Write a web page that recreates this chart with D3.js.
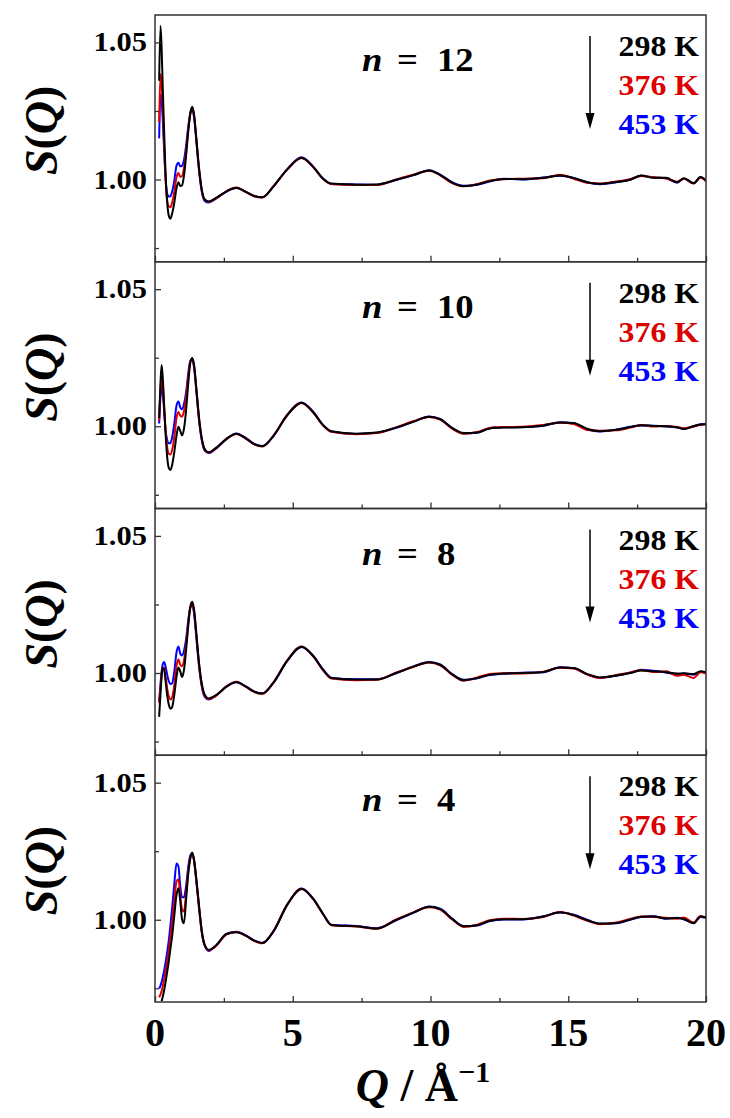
<!DOCTYPE html>
<html>
<head>
<meta charset="utf-8">
<script src="https://cdn.jsdelivr.net/npm/d3@7"></script>
<style>
  body { margin: 0; background: #fff; }
  svg text { font-weight: bold; }
</style>
</head>
<body>
<script>
// Q grid in 1/A, shared by all curves
var qLow  = [0.15, 0.2, 0.24, 0.28, 0.33, 0.38, 0.44, 0.5, 0.56, 0.62, 0.7, 0.78, 0.85, 0.92, 0.98, 1.05, 1.13, 1.21, 1.28, 1.35, 1.42, 1.5, 1.6, 1.7, 1.8, 1.95];
var qMid  = [2.2, 2.6, 2.95, 3.3, 3.6, 3.9, 4.3, 4.8, 5.32, 5.75, 6.1, 6.4];
var qHigh = [7.3, 8.05, 8.75, 9.4, 9.95, 10.35, 10.8, 11.2, 11.7, 12.15, 12.65, 13.35, 14.1, 14.7, 15.2, 15.7, 16.15, 16.75, 17.25, 17.65, 18.1, 18.55, 18.95, 19.2, 19.55, 19.8, 20.0];

var temps  = ["298 K", "376 K", "453 K"];
var colors = ["#000000", "#dd0000", "#0000ff"];
var chainN = [12, 10, 8, 4];

// S(Q), n = 12
var n12_298 = [1.036, 1.056, 1.048, 1.034, 1.018, 1.003, 0.992, 0.9868, 0.9857, 0.9875, 0.9915, 0.9968, 0.9990, 0.9976, 0.9978, 1.0012, 1.0088, 1.0178, 1.0240, 1.0265, 1.0235, 1.0150, 1.0040, 0.9962, 0.9928, 0.9920,
  0.9932, 0.9957, 0.9970, 0.9955, 0.9940, 0.9935, 0.9975, 1.0037, 1.0078, 1.0045, 1.0003, 0.9985,
  0.9981, 0.9982, 0.9999, 1.0017, 1.0033, 1.0017, 0.9988, 0.9976, 0.9982, 0.9994, 1.0002, 1.0001, 1.0006, 1.0015, 1.0005, 0.9990, 0.9984, 0.9991, 0.9999, 1.0015, 1.0006, 1.0006, 0.9990, 1.0005, 0.9987, 1.0009, 0.9996];
var n12_376 = [1.021, 1.0385, 1.035, 1.026, 1.013, 1.001, 0.9925, 0.9902, 0.9899, 0.9915, 0.9955, 1.0008, 1.0024, 1.0010, 1.0012, 1.0040, 1.0105, 1.0185, 1.0240, 1.0262, 1.0232, 1.0148, 1.0038, 0.9960, 0.9926, 0.9919,
  0.9930, 0.9958, 0.9971, 0.9954, 0.9939, 0.9934, 0.9976, 1.0036, 1.0079, 1.0044, 1.0002, 0.9984,
  0.9980, 0.9980, 1.0000, 1.0018, 1.0032, 1.0015, 0.9986, 0.9975, 0.9984, 0.9996, 1.0001, 1.0003, 1.0005, 1.0017, 1.0003, 0.9988, 0.9985, 0.9993, 1.0001, 1.0013, 1.0008, 1.0004, 0.9992, 1.0003, 0.9985, 1.0006, 0.9993];
var n12_453 = [1.015, 1.031, 1.029, 1.022, 1.011, 1.001, 0.9950, 0.9938, 0.9939, 0.9955, 0.9995, 1.0050, 1.0061, 1.0048, 1.0050, 1.0070, 1.0125, 1.0195, 1.0240, 1.0255, 1.0225, 1.0140, 1.0030, 0.9955, 0.9922, 0.9916,
  0.9929, 0.9956, 0.9969, 0.9955, 0.9940, 0.9935, 0.9974, 1.0038, 1.0081, 1.0046, 1.0004, 0.9984,
  0.9982, 0.9981, 0.9998, 1.0016, 1.0034, 1.0018, 0.9989, 0.9977, 0.9981, 0.9993, 1.0003, 1.0000, 1.0007, 1.0014, 1.0006, 0.9989, 0.9983, 0.9990, 1.0000, 1.0014, 1.0007, 1.0005, 0.9988, 1.0004, 0.9986, 1.0008, 0.9995];

// S(Q), n = 10
var n10_298 = [1.003, 1.016, 1.0223, 1.018, 1.008, 0.998, 0.989, 0.9848, 0.9840, 0.9858, 0.9905, 0.9965, 0.9998, 0.9982, 0.9967, 0.9990, 1.0060, 1.0160, 1.0230, 1.0249, 1.0222, 1.0140, 1.0030, 0.9955, 0.9918, 0.9905,
  0.9920, 0.9955, 0.9973, 0.9955, 0.9935, 0.9927, 0.9965, 1.0040, 1.0086, 1.0050, 1.0004, 0.9982,
  0.9973, 0.9977, 0.9995, 1.0017, 1.0035, 1.0026, 0.9993, 0.9975, 0.9977, 0.9992, 0.9995, 0.9996, 1.0003, 1.0014, 1.0012, 0.9990, 0.9982, 0.9987, 0.9997, 1.0004, 1.0001, 1.0000, 0.9996, 0.9990, 1.0001, 1.0006, 1.0007];
var n10_376 = [1.002, 1.0135, 1.0183, 1.015, 1.007, 0.999, 0.9925, 0.9900, 0.9897, 0.9912, 0.9960, 1.0030, 1.0052, 1.0038, 1.0035, 1.0055, 1.0105, 1.0185, 1.0235, 1.0247, 1.0218, 1.0135, 1.0025, 0.9952, 0.9915, 0.9903,
  0.9918, 0.9954, 0.9972, 0.9956, 0.9934, 0.9926, 0.9966, 1.0041, 1.0085, 1.0049, 1.0003, 0.9980,
  0.9971, 0.9975, 0.9996, 1.0019, 1.0034, 1.0024, 0.9990, 0.9973, 0.9979, 0.9994, 0.9997, 0.9998, 1.0005, 1.0013, 1.0008, 0.9986, 0.9984, 0.9985, 0.9995, 1.0005, 0.9999, 1.0001, 0.9997, 0.9993, 0.9998, 1.0005, 1.0008];
var n10_453 = [1.001, 1.011, 1.0146, 1.012, 1.006, 0.999, 0.9950, 0.9938, 0.9939, 0.9958, 1.0010, 1.0075, 1.0090, 1.0068, 1.0062, 1.0080, 1.0125, 1.0195, 1.0238, 1.0243, 1.0212, 1.0128, 1.0020, 0.9948, 0.9912, 0.9902,
  0.9917, 0.9953, 0.9974, 0.9957, 0.9936, 0.9928, 0.9964, 1.0042, 1.0087, 1.0052, 1.0005, 0.9981,
  0.9972, 0.9976, 0.9994, 1.0018, 1.0036, 1.0027, 0.9992, 0.9974, 0.9976, 0.9993, 0.9996, 0.9997, 1.0002, 1.0015, 1.0010, 0.9988, 0.9981, 0.9988, 0.9998, 1.0003, 1.0002, 0.9999, 0.9995, 0.9991, 1.0000, 1.0007, 1.0008];

// S(Q), n = 8
var n8_298 = [0.9840, 0.9925, 0.9985, 1.0018, 1.0015, 0.9975, 0.9920, 0.9885, 0.9870, 0.9875, 0.9920, 0.9985, 1.0020, 1.0005, 0.9985, 1.0010, 1.0085, 1.0175, 1.0240, 1.0260, 1.0230, 1.0145, 1.0035, 0.9960, 0.9922, 0.9907,
  0.9918, 0.9950, 0.9967, 0.9950, 0.9932, 0.9925, 0.9965, 1.0045, 1.0096, 1.0061, 1.0012, 0.9982,
  0.9976, 0.9976, 1.0000, 1.0024, 1.0039, 1.0030, 0.9994, 0.9974, 0.9982, 0.9994, 0.9998, 1.0000, 1.0004, 1.0020, 1.0018, 0.9996, 0.9984, 0.9991, 1.0000, 1.0009, 1.0006, 1.0003, 0.9998, 0.9999, 0.9996, 1.0006, 1.0003];
var n8_376 = [0.9890, 0.9950, 0.9995, 1.0020, 1.0018, 0.9990, 0.9945, 0.9915, 0.9903, 0.9910, 0.9955, 1.0025, 1.0050, 1.0030, 1.0025, 1.0045, 1.0105, 1.0185, 1.0238, 1.0254, 1.0225, 1.0140, 1.0030, 0.9955, 0.9918, 0.9905,
  0.9916, 0.9951, 0.9968, 0.9949, 0.9931, 0.9924, 0.9966, 1.0046, 1.0097, 1.0060, 1.0010, 0.9980,
  0.9974, 0.9975, 1.0001, 1.0023, 1.0038, 1.0028, 0.9992, 0.9972, 0.9984, 0.9996, 0.9999, 0.9998, 1.0005, 1.0019, 1.0016, 0.9994, 0.9982, 0.9993, 1.0002, 1.0010, 1.0004, 1.0006, 0.9990, 0.9994, 0.9982, 1.0003, 0.9998];
var n8_453 = [0.9895, 0.9960, 1.0005, 1.0032, 1.0040, 1.0025, 0.9995, 0.9970, 0.9960, 0.9962, 1.0005, 1.0075, 1.0097, 1.0070, 1.0064, 1.0080, 1.0125, 1.0195, 1.0238, 1.0246, 1.0215, 1.0130, 1.0022, 0.9950, 0.9914, 0.9903,
  0.9917, 0.9952, 0.9966, 0.9951, 0.9933, 0.9926, 0.9964, 1.0044, 1.0095, 1.0062, 1.0013, 0.9983,
  0.9977, 0.9977, 0.9999, 1.0025, 1.0040, 1.0031, 0.9995, 0.9975, 0.9981, 0.9993, 0.9997, 1.0001, 1.0003, 1.0021, 1.0017, 0.9994, 0.9983, 0.9990, 1.0001, 1.0012, 1.0008, 1.0002, 0.9995, 0.9998, 0.9994, 1.0005, 1.0002];

// S(Q), n = 4
var n4_298 = [null, null, 0.9703, 0.9718, 0.9742, 0.9770, 0.9808, 0.9848, 0.9895, 0.9938, 1.0015, 1.0090, 1.0115, 1.0065, 1.0003, 0.9987, 1.0075, 1.0170, 1.0222, 1.0245, 1.0218, 1.0150, 1.0050, 0.9958, 0.9910, 0.9890,
  0.9905, 0.9948, 0.9954, 0.9942, 0.9924, 0.9915, 0.9958, 1.0055, 1.0112, 1.0075, 1.0021, 0.9981,
  0.9976, 0.9968, 0.9999, 1.0027, 1.0047, 1.0039, 1.0002, 0.9976, 0.9980, 0.9996, 1.0002, 1.0002, 1.0012, 1.0027, 1.0017, 0.9998, 0.9986, 0.9988, 1.0001, 1.0011, 1.0012, 1.0005, 1.0006, 1.0003, 0.9987, 1.0012, 1.0009];
var n4_376 = [0.9717, 0.9728, 0.9740, 0.9757, 0.9782, 0.9808, 0.9845, 0.9888, 0.9938, 0.9990, 1.0068, 1.0140, 1.0148, 1.0085, 1.0038, 1.0030, 1.0098, 1.0180, 1.0228, 1.0243, 1.0215, 1.0145, 1.0045, 0.9955, 0.9908, 0.9888,
  0.9903, 0.9947, 0.9955, 0.9941, 0.9923, 0.9914, 0.9959, 1.0056, 1.0113, 1.0074, 1.0020, 0.9980,
  0.9975, 0.9967, 1.0001, 1.0028, 1.0046, 1.0037, 1.0000, 0.9974, 0.9982, 0.9998, 1.0004, 1.0003, 1.0010, 1.0028, 1.0015, 0.9996, 0.9984, 0.9990, 1.0003, 1.0012, 1.0010, 1.0007, 1.0004, 1.0008, 0.9990, 1.0014, 1.0006];
var n4_453 = [0.9749, 0.9760, 0.9773, 0.9790, 0.9813, 0.9842, 0.9880, 0.9925, 0.9980, 1.0040, 1.0130, 1.0205, 1.0195, 1.0120, 1.0082, 1.0082, 1.0125, 1.0195, 1.0235, 1.0243, 1.0212, 1.0140, 1.0040, 0.9952, 0.9906, 0.9886,
  0.9904, 0.9949, 0.9956, 0.9943, 0.9925, 0.9916, 0.9957, 1.0054, 1.0114, 1.0076, 1.0022, 0.9982,
  0.9977, 0.9969, 0.9998, 1.0026, 1.0048, 1.0040, 1.0003, 0.9977, 0.9979, 0.9995, 1.0001, 1.0001, 1.0013, 1.0026, 1.0018, 0.9999, 0.9985, 0.9987, 1.0000, 1.0010, 1.0013, 1.0004, 1.0007, 1.0001, 0.9989, 1.0010, 1.0008];

// ticks
var xMajor = [0, 5, 10, 15, 20];
var xMinor = [2.5, 7.5, 12.5, 17.5];
var yMajor = [1.00, 1.05];
var yMinor = [0.975, 1.025];

var Q = qLow.concat(qMid, qHigh);
var panels = [
  { n: chainN[0], s: [n12_298, n12_376, n12_453] },
  { n: chainN[1], s: [n10_298, n10_376, n10_453] },
  { n: chainN[2], s: [n8_298, n8_376, n8_453] },
  { n: chainN[3], s: [n4_298, n4_376, n4_453] }
];
panels.forEach(function(p) {
  p.s.forEach(function(a) { if (a.length !== Q.length) throw new Error("length " + a.length + " n=" + p.n); });
});

var W = 730, H = 1118;
var left = 155, right = 706, top0 = 15, ph = 246.75;
var SX = 1.13; // the figure's lettering is a bit wide
var FONT = "'Liberation Serif', 'Times New Roman', Tinos, Times, serif";

var svg = d3.select("body").append("svg").attr("width", W).attr("height", H)
  .attr("font-family", FONT).style("font-family", FONT);
var x = d3.scaleLinear().domain([0, 20]).range([left, right]);

function stext(parent, px, py, size, anchor, sx) {
  return parent.append("text")
    .attr("transform", "translate(" + px + "," + py + ") scale(" + sx + ",1)")
    .attr("text-anchor", anchor)
    .attr("font-size", size);
}

panels.forEach(function(p, i) {
  var t = top0 + i * ph, b = t + ph;
  var y = d3.scaleLinear().domain([0.97, 1.06]).range([b, t]);
  var g = svg.append("g");

  g.append("clipPath").attr("id", "clip" + i)
    .append("rect").attr("x", left).attr("y", t).attr("width", right - left).attr("height", ph);

  var line = d3.line()
    .defined(function(d) { return d[1] != null; })
    .x(function(d) { return x(d[0]); })
    .y(function(d) { return y(d[1]); })
    .curve(d3.curveMonotoneX);

  // hottest first so the black curve sits on top
  [2, 1, 0].forEach(function(k) {
    g.append("path")
      .datum(Q.map(function(q, j) { return [q, p.s[k][j]]; }))
      .attr("clip-path", "url(#clip" + i + ")")
      .attr("fill", "none")
      .attr("stroke", colors[k])
      .attr("stroke-width", 2)
      .attr("stroke-linejoin", "round")
      .attr("d", line);
  });

  // inward ticks
  var ax = [
    g.append("g").attr("transform", "translate(0," + b + ")")
      .call(d3.axisBottom(x).tickValues(xMajor).tickSize(-6).tickFormat("")),
    g.append("g").attr("transform", "translate(0," + b + ")")
      .call(d3.axisBottom(x).tickValues(xMinor).tickSize(-4).tickFormat("")),
    g.append("g").attr("transform", "translate(" + left + ",0)")
      .call(d3.axisLeft(y).tickValues(yMajor).tickSize(-6).tickFormat("")),
    g.append("g").attr("transform", "translate(" + left + ",0)")
      .call(d3.axisLeft(y).tickValues(yMinor).tickSize(-4).tickFormat(""))
  ];
  ax.forEach(function(a) {
    a.attr("font-family", null);
    a.select(".domain").remove();
    a.selectAll("line").attr("stroke", "#333").attr("stroke-width", 1.3);
  });

  g.append("rect").attr("x", left).attr("y", t).attr("width", right - left).attr("height", ph)
    .attr("fill", "none").attr("stroke", "#333").attr("stroke-width", 1.5);

  // y tick labels
  yMajor.forEach(function(v) {
    stext(g, left - 8, y(v) + 9, 27, "end", SX).text(d3.format(".2f")(v));
  });

  // y title S(Q)
  var yt = g.append("text")
    .attr("transform", "translate(57," + (t + ph / 2 - 8) + ") rotate(-90)")
    .attr("text-anchor", "middle").attr("font-size", 46);
  yt.append("tspan").attr("font-style", "italic").text("S");
  yt.append("tspan").text("(");
  yt.append("tspan").attr("font-style", "italic").text("Q");
  yt.append("tspan").text(")");

  // n = ...
  stext(g, 362, t + 56, 34, "start", 1.08).attr("font-style", "italic").text("n");
  stext(g, 397, t + 56, 34, "start", 1.08).text("=");
  stext(g, 437, t + 56, 34, "start", 1.08).text(p.n);

  // temperature labels and arrow
  temps.forEach(function(s, k) {
    stext(g, 699, t + 41 + k * 39, 30, "end", 1.06).attr("fill", colors[k]).text(s);
  });
  g.append("line").attr("x1", 590).attr("x2", 590).attr("y1", t + 21).attr("y2", t + 101)
    .attr("stroke", "#000").attr("stroke-width", 1.5);
  g.append("path")
    .attr("d", "M590," + (t + 114) + "L585.5," + (t + 98) + "L594.5," + (t + 98) + "Z")
    .attr("fill", "#000");

  // x tick labels under the last panel
  if (i === panels.length - 1) {
    xMajor.forEach(function(v) {
      stext(g, x(v), b + 44, 39, "middle", 1.03).text(v);
    });
  }
});

// x title
var xt = svg.append("text")
  .attr("x", 423).attr("y", 1101)
  .attr("text-anchor", "middle").attr("font-size", 46);
xt.append("tspan").attr("font-style", "italic").text("Q");
xt.append("tspan").text(" / \u00C5");
xt.append("tspan").attr("font-size", 30).attr("dy", -19).text("\u22121");
</script>
</body>
</html>
